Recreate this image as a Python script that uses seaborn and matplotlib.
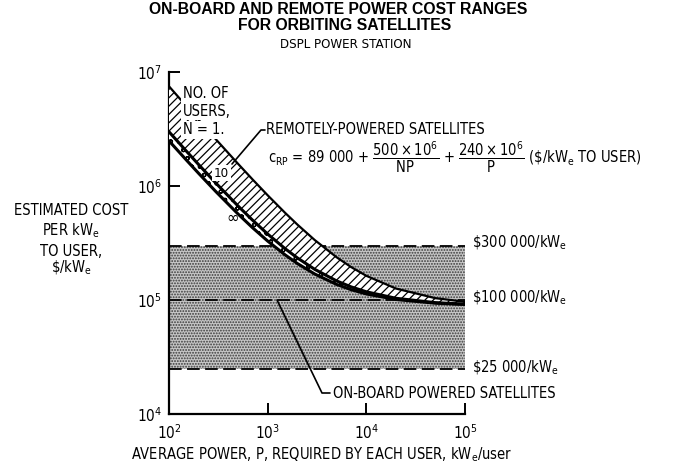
import matplotlib
matplotlib.use("Agg")
import matplotlib.pyplot as plt
import pandas as pd
import seaborn as sns

# Average power per user, kWe/user
power_kw = [100, 150, 200, 300, 500, 700, 1000, 1500, 2000, 3000, 5000,
            7000, 10000, 20000, 50000, 100000]
# Remotely-powered cost to user, $/kWe, for N = 1, 10 and infinitely many users
cost_n1 = [7489000, 5022000, 3789000, 2555700, 1569000, 1146100, 829000,
           582300, 459000, 335700, 237000, 194700, 163000, 126000, 103800, 96400]
cost_n10 = [2989000, 2022300, 1539000, 1055700, 669000, 503300, 379000,
            282300, 234000, 185700, 147000, 130400, 118000, 103500, 94800, 91900]
cost_ninf = [2489000, 1689000, 1289000, 889000, 569000, 431900, 329000,
             249000, 209000, 169000, 137000, 123300, 113000, 101000, 93800, 91400]

# On-board powered satellites cost range, $/kWe
onboard_levels = [25000, 100000, 300000]
onboard_labels = ["\\$25 000/kW$_e$", "\\$100 000/kW$_e$", "\\$300 000/kW$_e$"]

x_ticks = [1e2, 1e3, 1e4, 1e5]
y_ticks = [1e4, 1e5, 1e6, 1e7]

sns.set_theme(style="ticks")
BODY = ["DejaVu Sans Condensed", "Liberation Sans Narrow", "DejaVu Sans"]
plt.rcParams["font.family"] = BODY
plt.rcParams["font.stretch"] = "condensed"
plt.rcParams["mathtext.fontset"] = "custom"
plt.rcParams["mathtext.rm"] = "DejaVu Sans Condensed"
plt.rcParams["mathtext.it"] = "DejaVu Sans Condensed"
plt.rcParams["mathtext.bf"] = "DejaVu Sans Condensed:bold"
plt.rcParams["hatch.linewidth"] = 0.9
plt.rcParams["text.color"] = "black"

W, H = 674, 467
fig = plt.figure(figsize=(W / 100, H / 100), dpi=100)
fig.patch.set_facecolor("white")


def fx(x):
    return x / W


def fy(y):
    return 1 - y / H


ax = fig.add_axes([fx(169), fy(414), (465 - 169) / W, (414 - 72) / H])
ax.set_facecolor("white")
ax.set_xscale("log")
ax.set_yscale("log")
ax.set_xlim(x_ticks[0], x_ticks[-1])
ax.set_ylim(y_ticks[0], y_ticks[-1])

# On-board powered range: stippled band with dashed limits
ax.fill_between([x_ticks[0], x_ticks[-1]], onboard_levels[0], onboard_levels[-1],
                facecolor="#c6c6c6", edgecolor="#3a3a3a", hatch="......",
                linewidth=0, zorder=1)
ax.hlines(onboard_levels, x_ticks[0], x_ticks[-1], colors="black",
          linestyles=(0, (7, 3)), linewidth=1.3, zorder=2)

# Remotely-powered ranges
ax.fill_between(power_kw, cost_n10, cost_n1, facecolor="white", edgecolor="black",
                hatch="////", linewidth=0, zorder=3)
ax.fill_between(power_kw, cost_ninf, cost_n10, facecolor="white", edgecolor="black",
                hatch="oo", linewidth=0, zorder=3)

curves = pd.DataFrame({
    "P": power_kw * 3,
    "cost": cost_n1 + cost_n10 + cost_ninf,
    "N": ["1"] * len(power_kw) + ["10"] * len(power_kw) + ["inf"] * len(power_kw),
})
for n, lw in [("1", 1.6), ("10", 2.2), ("inf", 2.2)]:
    sns.lineplot(data=curves[curves["N"] == n], x="P", y="cost", color="black",
                 linewidth=lw, ax=ax, zorder=4, legend=False)

ax.set_xlabel("")
ax.set_ylabel("")
ax.set_xticks(x_ticks)
ax.set_yticks(y_ticks)
ax.minorticks_off()
ax.tick_params(direction="in", length=8, width=1.4, labelsize=11, colors="black")
ax.tick_params(axis="x", pad=7)
ax.tick_params(axis="y", pad=5)
for side in ["top", "right"]:
    ax.spines[side].set_visible(False)
for side in ["left", "bottom"]:
    ax.spines[side].set_linewidth(1.6)
    ax.spines[side].set_color("black")

# Titles
fig.text(fx(338), fy(9), "ON-BOARD AND REMOTE POWER COST RANGES", ha="center",
         va="center", fontsize=11.3, fontweight="bold", family="Liberation Sans")
fig.text(fx(345), fy(25), "FOR ORBITING SATELLITES", ha="center", va="center",
         fontsize=11.3, fontweight="bold", family="Liberation Sans")
fig.text(fx(346), fy(44), "DSPL POWER STATION", ha="center", va="center", fontsize=9.5)

# Axis titles
for txt, y in [("ESTIMATED COST", 210), ("PER kW$_e$", 231), ("TO USER,", 251),
               ("\\$/kW$_e$", 268)]:
    fig.text(fx(71), fy(y), txt, ha="center", va="center", fontsize=10.5)
fig.text(fx(322), fy(455), "AVERAGE POWER, P, REQUIRED BY EACH USER, kW$_e$/user",
         ha="center", va="center", fontsize=10.5)

# Range labels on the right
for txt, y in zip(onboard_labels, [368, 298, 243]):
    fig.text(fx(472), fy(y), txt, ha="left", va="center", fontsize=10.5)

# Curve annotations
white_box = dict(facecolor="white", edgecolor="none", pad=1.2)
for txt, y in [("NO. OF", 93), ("USERS,", 111), ("N = 1.", 130)]:
    fig.text(fx(183), fy(y), txt, ha="left", va="center", fontsize=10.5,
             bbox=white_box, zorder=5)
ax.text(340, 1.3e6, "10", ha="center", va="center", fontsize=9.5, bbox=white_box,
        zorder=6)
ax.text(440, 5.3e5, "\u221e", ha="center", va="center", fontsize=12,
        family="DejaVu Sans", zorder=6)

fig.text(fx(266), fy(130), "REMOTELY-POWERED SATELLITES", ha="left", va="center",
         fontsize=10.5)
fig.add_artist(plt.Line2D([fx(265), fx(261), fx(232)], [fy(130), fy(130), fy(164)],
                          color="black", linewidth=1.2))

fig.text(fx(268), fy(157),
         r"$\mathrm{c}_{\mathrm{RP}}$ = 89 000 + $\dfrac{500\times10^6}{\mathrm{NP}}$ + "
         r"$\dfrac{240\times10^6}{\mathrm{P}}$ (\$/kW$_e$ TO USER)",
         ha="left", va="center", fontsize=10.5)

fig.text(fx(333), fy(394), "ON-BOARD POWERED SATELLITES", ha="left", va="center",
         fontsize=10.5)
fig.add_artist(plt.Line2D([fx(277), fx(322), fx(330)], [fy(300), fy(393), fy(393)],
                          color="black", linewidth=1.2))

fig.savefig("out.png", dpi=100, facecolor="white")
